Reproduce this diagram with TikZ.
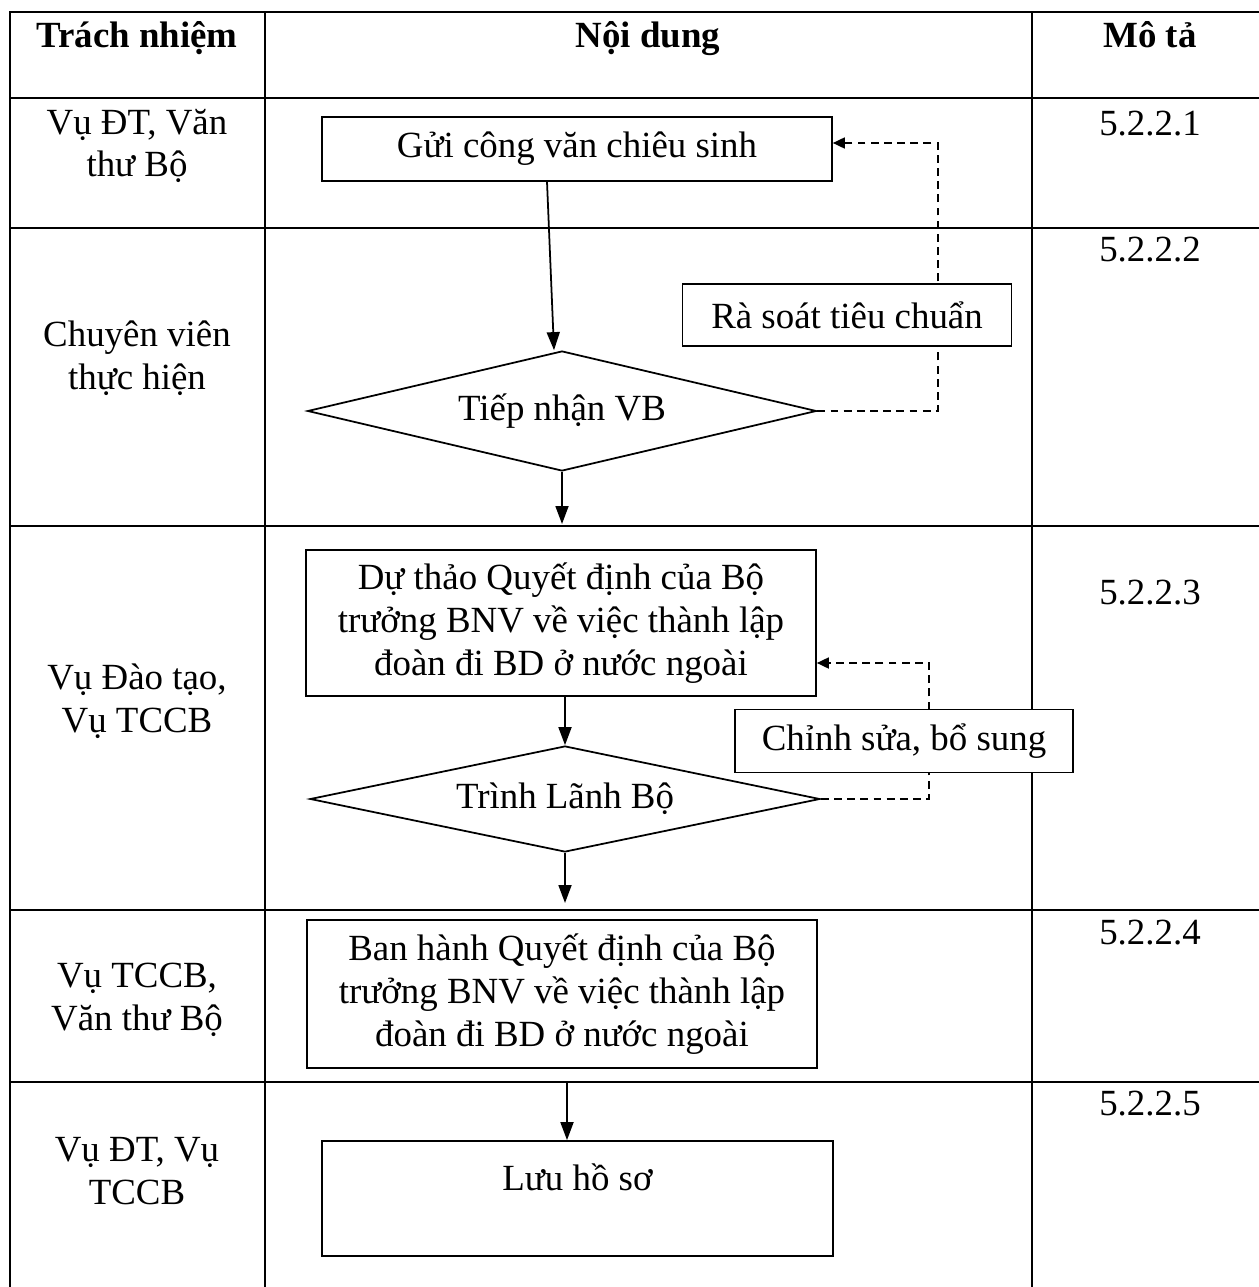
\documentclass[tikz,border=0pt]{standalone}
\usepackage{fontspec}
\setmainfont{Liberation Serif}
\usetikzlibrary{shapes.geometric, arrows.meta}

\begin{document}
\begin{tikzpicture}[
    x = 0.02cm, y = -0.02cm,
    every node/.style = {font=\fontsize{21}{24.4}\selectfont, align=center},
    hdr/.style = {font=\fontsize{21}{24.4}\selectfont\bfseries, anchor=base},
    tbl/.style = {line width=1pt},
    box/.style = {draw, rectangle, line width=1pt, fill=white, minimum width=10.2cm},
    decision/.style = {draw, diamond, line width=1pt, aspect=4.2, inner sep=0pt, minimum width=10.2cm},
    flow/.style = {line width=1pt, -{Triangle[length=0.36cm, width=0.26cm]}},
    back/.style = {line width=1pt, dash pattern=on 4.5pt off 3pt, -{Triangle[length=0.24cm, width=0.22cm]}}
  ]
    \useasboundingbox (0,0) rectangle (1258,1287);

    % bang
    \draw[tbl] (10,1300) -- (10,12) -- (1270,12);
    \draw[tbl] (265,12) -- (265,1300);
    \draw[tbl] (1032,12) -- (1032,1300);
    \foreach \r in {98,228,526,910,1082}
        \draw[tbl] (10,\r) -- (1270,\r);

    % tieu de
    \node[hdr] (h1) at (137,48) {Trách nhiệm};
    \node[hdr] (h2) at (648,48) {Nội dung};
    \node[hdr] (h3) at (1150,48) {Mô tả};

    % trach nhiem
    \node (t1) at (137,146) {Vụ ĐT, Văn\\thư Bộ};
    \node (t2) at (137,358) {Chuyên viên\\thực hiện};
    \node (t3) at (137,701) {Vụ Đào tạo,\\Vụ TCCB};
    \node (t4) at (137,1000) {Vụ TCCB,\\Văn thư Bộ};
    \node (t5) at (137,1171) {Vụ ĐT, Vụ\\TCCB};

    % mo ta
    \node (m1) at (1150,124) {5.2.2.1};
    \node (m2) at (1150,250) {5.2.2.2};
    \node (m3) at (1150,593) {5.2.2.3};
    \node (m4) at (1150,933) {5.2.2.4};
    \node (m5) at (1150,1104) {5.2.2.5};

    % cac buoc
    \node[box, minimum height=1.28cm] (gui) at (577,149) {Gửi công văn chiêu sinh};
    \node[decision, minimum width=10.18cm, minimum height=2.4cm] (tiep) at (562,411) {Tiếp nhận VB};
    \node[box, minimum height=2.92cm] (duthao) at (561,623)
        {Dự thảo Quyết định của Bộ\\trưởng BNV về việc thành lập\\đoàn đi BD ở nước ngoài};
    \node[decision, minimum height=2.12cm] (trinh) at (565,799) {Trình Lãnh Bộ};
    \node[box, minimum height=2.96cm] (banhanh) at (562,994)
        {Ban hành Quyết định của Bộ\\trưởng BNV về việc thành lập\\đoàn đi BD ở nước ngoài};
    \node[box, minimum width=10.22cm, minimum height=2.3cm] (luu) at (577.5,1198.5) {Lưu hồ sơ\\\mbox{}};

    % vong lai (net dut)
    \coordinate (k1) at (938,143);
    \coordinate (k2) at (929,663);
    \draw[back] (tiep.east) -| (k1) -- (gui.east |- k1);
    \draw[back] (trinh.east) -| (k2) -- (duthao.east |- k2);
    \node[box, minimum width=6.58cm, minimum height=1.24cm] (rasoat) at (847,315) {Rà soát tiêu chuẩn};
    \node[box, minimum width=6.76cm, minimum height=1.26cm] (chinhsua) at (904,741) {Chỉnh sửa, bổ sung};

    % mui ten
    \coordinate (e2) at (562,524);
    \coordinate (e4) at (565,903);
    \coordinate (s5) at (567,1082);
    \draw[flow] ([xshift=-0.6cm]gui.south) -- ([xshift=-0.16cm]tiep.north);
    \draw[flow] (tiep.south) -- (e2);
    \draw[flow] (trinh.north |- duthao.south) -- (trinh.north);
    \draw[flow] (trinh.south) -- (e4);
    \draw[flow] (s5) -- (s5 |- luu.north);
\end{tikzpicture}
\end{document}
